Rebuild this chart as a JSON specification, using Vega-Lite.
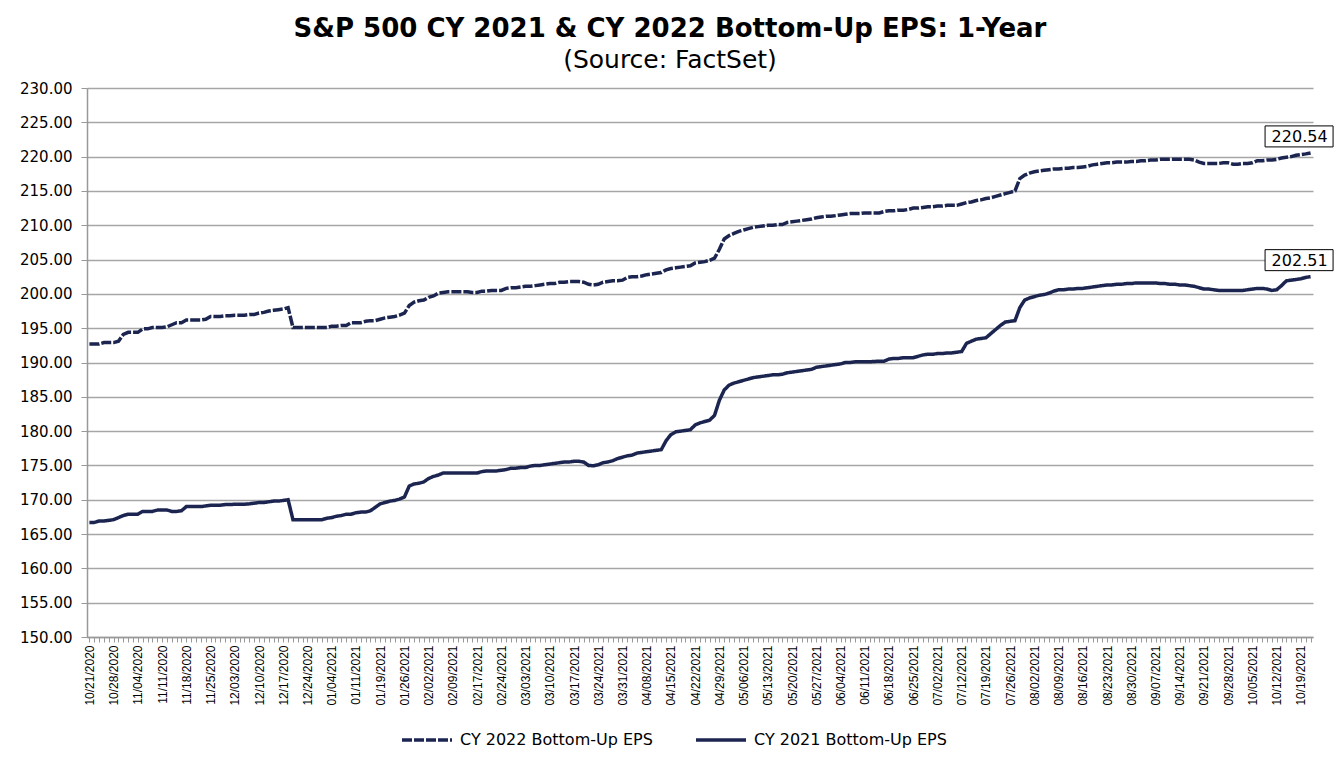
{
  "$schema": "https://vega.github.io/schema/vega-lite/v6.json",
  "width": 1226,
  "height": 549,
  "autosize": {"type": "none"},
  "padding": {"left": 87, "top": 88, "right": 25, "bottom": 122},
  "background": "white",
  "config": {"view": {"stroke": null}},
  "title": {
    "text": "S&P 500 CY 2021 & CY 2022 Bottom-Up  EPS: 1-Year",
    "subtitle": "(Source: FactSet)",
    "anchor": "middle",
    "dx": -30,
    "font": "DejaVu Sans",
    "fontSize": 26,
    "fontWeight": "bold",
    "color": "black",
    "subtitleFont": "DejaVu Sans",
    "subtitleFontSize": 25,
    "subtitleColor": "black",
    "subtitlePadding": 6,
    "offset": 8
  },
  "data": {"values": [
    {"d":"10/21/2020","a":192.7,"b":166.7},
    {"d":"10/22/2020","a":192.7,"b":166.7},
    {"d":"10/23/2020","a":192.7,"b":166.9},
    {"d":"10/26/2020","a":192.9,"b":166.9},
    {"d":"10/27/2020","a":192.9,"b":167.0},
    {"d":"10/28/2020","a":192.9,"b":167.1},
    {"d":"10/29/2020","a":193.1,"b":167.4},
    {"d":"10/30/2020","a":194.1,"b":167.7},
    {"d":"11/02/2020","a":194.4,"b":167.9},
    {"d":"11/03/2020","a":194.4,"b":167.9},
    {"d":"11/04/2020","a":194.4,"b":167.9},
    {"d":"11/05/2020","a":194.9,"b":168.3},
    {"d":"11/06/2020","a":194.9,"b":168.3},
    {"d":"11/09/2020","a":195.1,"b":168.3},
    {"d":"11/10/2020","a":195.1,"b":168.5},
    {"d":"11/11/2020","a":195.1,"b":168.5},
    {"d":"11/12/2020","a":195.2,"b":168.5},
    {"d":"11/13/2020","a":195.5,"b":168.3},
    {"d":"11/16/2020","a":195.8,"b":168.3},
    {"d":"11/17/2020","a":195.8,"b":168.4},
    {"d":"11/18/2020","a":196.2,"b":169.0},
    {"d":"11/19/2020","a":196.2,"b":169.0},
    {"d":"11/20/2020","a":196.2,"b":169.0},
    {"d":"11/23/2020","a":196.2,"b":169.0},
    {"d":"11/24/2020","a":196.3,"b":169.1},
    {"d":"11/25/2020","a":196.7,"b":169.2},
    {"d":"11/27/2020","a":196.7,"b":169.2},
    {"d":"11/30/2020","a":196.7,"b":169.2},
    {"d":"12/01/2020","a":196.8,"b":169.3},
    {"d":"12/02/2020","a":196.8,"b":169.3},
    {"d":"12/03/2020","a":196.9,"b":169.35},
    {"d":"12/04/2020","a":196.9,"b":169.35},
    {"d":"12/07/2020","a":196.9,"b":169.35},
    {"d":"12/08/2020","a":197.0,"b":169.4},
    {"d":"12/09/2020","a":197.0,"b":169.5},
    {"d":"12/10/2020","a":197.2,"b":169.6},
    {"d":"12/11/2020","a":197.3,"b":169.6},
    {"d":"12/14/2020","a":197.5,"b":169.7},
    {"d":"12/15/2020","a":197.6,"b":169.8},
    {"d":"12/16/2020","a":197.7,"b":169.8},
    {"d":"12/17/2020","a":197.8,"b":169.9},
    {"d":"12/18/2020","a":198.0,"b":170.0},
    {"d":"12/21/2020","a":195.1,"b":167.1},
    {"d":"12/22/2020","a":195.1,"b":167.1},
    {"d":"12/23/2020","a":195.1,"b":167.1},
    {"d":"12/24/2020","a":195.1,"b":167.1},
    {"d":"12/28/2020","a":195.1,"b":167.1},
    {"d":"12/29/2020","a":195.1,"b":167.1},
    {"d":"12/30/2020","a":195.1,"b":167.1},
    {"d":"12/31/2020","a":195.1,"b":167.3},
    {"d":"01/04/2021","a":195.3,"b":167.4},
    {"d":"01/05/2021","a":195.3,"b":167.6},
    {"d":"01/06/2021","a":195.4,"b":167.7},
    {"d":"01/07/2021","a":195.4,"b":167.9},
    {"d":"01/08/2021","a":195.8,"b":167.9},
    {"d":"01/11/2021","a":195.8,"b":168.1},
    {"d":"01/12/2021","a":195.8,"b":168.2},
    {"d":"01/13/2021","a":196.0,"b":168.2},
    {"d":"01/14/2021","a":196.1,"b":168.4},
    {"d":"01/15/2021","a":196.1,"b":168.9},
    {"d":"01/19/2021","a":196.3,"b":169.4},
    {"d":"01/20/2021","a":196.5,"b":169.6},
    {"d":"01/21/2021","a":196.6,"b":169.8},
    {"d":"01/22/2021","a":196.7,"b":169.9},
    {"d":"01/25/2021","a":196.9,"b":170.1},
    {"d":"01/26/2021","a":197.2,"b":170.4},
    {"d":"01/27/2021","a":198.3,"b":172.0},
    {"d":"01/28/2021","a":198.8,"b":172.3},
    {"d":"01/29/2021","a":199.0,"b":172.4},
    {"d":"02/01/2021","a":199.1,"b":172.6},
    {"d":"02/02/2021","a":199.5,"b":173.1},
    {"d":"02/03/2021","a":199.7,"b":173.4},
    {"d":"02/04/2021","a":200.1,"b":173.6},
    {"d":"02/05/2021","a":200.2,"b":173.9},
    {"d":"02/08/2021","a":200.3,"b":173.9},
    {"d":"02/09/2021","a":200.3,"b":173.9},
    {"d":"02/10/2021","a":200.3,"b":173.9},
    {"d":"02/11/2021","a":200.3,"b":173.9},
    {"d":"02/12/2021","a":200.3,"b":173.9},
    {"d":"02/16/2021","a":200.2,"b":173.9},
    {"d":"02/17/2021","a":200.2,"b":173.9},
    {"d":"02/18/2021","a":200.4,"b":174.1},
    {"d":"02/19/2021","a":200.4,"b":174.2},
    {"d":"02/22/2021","a":200.5,"b":174.2},
    {"d":"02/23/2021","a":200.5,"b":174.2},
    {"d":"02/24/2021","a":200.5,"b":174.3},
    {"d":"02/25/2021","a":200.8,"b":174.4},
    {"d":"02/26/2021","a":200.9,"b":174.6},
    {"d":"03/01/2021","a":200.9,"b":174.6},
    {"d":"03/02/2021","a":201.0,"b":174.7},
    {"d":"03/03/2021","a":201.1,"b":174.7},
    {"d":"03/04/2021","a":201.1,"b":174.9},
    {"d":"03/05/2021","a":201.2,"b":175.0},
    {"d":"03/08/2021","a":201.3,"b":175.0},
    {"d":"03/09/2021","a":201.4,"b":175.1},
    {"d":"03/10/2021","a":201.5,"b":175.2},
    {"d":"03/11/2021","a":201.5,"b":175.3},
    {"d":"03/12/2021","a":201.7,"b":175.4},
    {"d":"03/15/2021","a":201.7,"b":175.5},
    {"d":"03/16/2021","a":201.8,"b":175.5},
    {"d":"03/17/2021","a":201.8,"b":175.6},
    {"d":"03/18/2021","a":201.8,"b":175.6},
    {"d":"03/19/2021","a":201.7,"b":175.5},
    {"d":"03/22/2021","a":201.4,"b":175.0},
    {"d":"03/23/2021","a":201.3,"b":174.95},
    {"d":"03/24/2021","a":201.4,"b":175.1},
    {"d":"03/25/2021","a":201.7,"b":175.4},
    {"d":"03/26/2021","a":201.8,"b":175.5},
    {"d":"03/29/2021","a":201.9,"b":175.7},
    {"d":"03/30/2021","a":201.9,"b":176.0},
    {"d":"03/31/2021","a":202.0,"b":176.2},
    {"d":"04/01/2021","a":202.4,"b":176.4},
    {"d":"04/05/2021","a":202.5,"b":176.5},
    {"d":"04/06/2021","a":202.5,"b":176.8},
    {"d":"04/07/2021","a":202.6,"b":176.9},
    {"d":"04/08/2021","a":202.8,"b":177.0},
    {"d":"04/09/2021","a":202.9,"b":177.1},
    {"d":"04/12/2021","a":203.0,"b":177.2},
    {"d":"04/13/2021","a":203.1,"b":177.3},
    {"d":"04/14/2021","a":203.5,"b":178.6},
    {"d":"04/15/2021","a":203.7,"b":179.5},
    {"d":"04/16/2021","a":203.8,"b":179.9},
    {"d":"04/19/2021","a":203.9,"b":180.0},
    {"d":"04/20/2021","a":204.0,"b":180.1},
    {"d":"04/21/2021","a":204.1,"b":180.2},
    {"d":"04/22/2021","a":204.5,"b":180.9},
    {"d":"04/23/2021","a":204.6,"b":181.2},
    {"d":"04/26/2021","a":204.7,"b":181.4},
    {"d":"04/27/2021","a":204.9,"b":181.6},
    {"d":"04/28/2021","a":205.2,"b":182.3},
    {"d":"04/29/2021","a":206.5,"b":184.5},
    {"d":"04/30/2021","a":208.0,"b":186.0},
    {"d":"05/03/2021","a":208.5,"b":186.7},
    {"d":"05/04/2021","a":208.8,"b":187.0},
    {"d":"05/05/2021","a":209.1,"b":187.2},
    {"d":"05/06/2021","a":209.3,"b":187.4},
    {"d":"05/07/2021","a":209.5,"b":187.6},
    {"d":"05/10/2021","a":209.7,"b":187.8},
    {"d":"05/11/2021","a":209.8,"b":187.9},
    {"d":"05/12/2021","a":209.9,"b":188.0},
    {"d":"05/13/2021","a":210.0,"b":188.1},
    {"d":"05/14/2021","a":210.0,"b":188.2},
    {"d":"05/17/2021","a":210.1,"b":188.2},
    {"d":"05/18/2021","a":210.1,"b":188.3},
    {"d":"05/19/2021","a":210.4,"b":188.5},
    {"d":"05/20/2021","a":210.5,"b":188.6},
    {"d":"05/21/2021","a":210.6,"b":188.7},
    {"d":"05/24/2021","a":210.7,"b":188.8},
    {"d":"05/25/2021","a":210.8,"b":188.9},
    {"d":"05/26/2021","a":210.9,"b":189.0},
    {"d":"05/27/2021","a":211.1,"b":189.3},
    {"d":"05/28/2021","a":211.2,"b":189.4},
    {"d":"06/01/2021","a":211.3,"b":189.5},
    {"d":"06/02/2021","a":211.3,"b":189.6},
    {"d":"06/03/2021","a":211.4,"b":189.7},
    {"d":"06/04/2021","a":211.5,"b":189.8},
    {"d":"06/07/2021","a":211.6,"b":190.0},
    {"d":"06/08/2021","a":211.7,"b":190.0},
    {"d":"06/09/2021","a":211.7,"b":190.1},
    {"d":"06/10/2021","a":211.7,"b":190.1},
    {"d":"06/11/2021","a":211.8,"b":190.1},
    {"d":"06/14/2021","a":211.8,"b":190.1},
    {"d":"06/15/2021","a":211.8,"b":190.15},
    {"d":"06/16/2021","a":211.8,"b":190.2},
    {"d":"06/17/2021","a":212.0,"b":190.2},
    {"d":"06/18/2021","a":212.1,"b":190.5},
    {"d":"06/21/2021","a":212.1,"b":190.6},
    {"d":"06/22/2021","a":212.2,"b":190.6},
    {"d":"06/23/2021","a":212.2,"b":190.7},
    {"d":"06/24/2021","a":212.3,"b":190.7},
    {"d":"06/25/2021","a":212.5,"b":190.7},
    {"d":"06/28/2021","a":212.5,"b":190.9},
    {"d":"06/29/2021","a":212.6,"b":191.1},
    {"d":"06/30/2021","a":212.7,"b":191.2},
    {"d":"07/01/2021","a":212.7,"b":191.2},
    {"d":"07/02/2021","a":212.8,"b":191.3},
    {"d":"07/06/2021","a":212.8,"b":191.3},
    {"d":"07/07/2021","a":212.9,"b":191.4},
    {"d":"07/08/2021","a":212.9,"b":191.4},
    {"d":"07/09/2021","a":212.9,"b":191.5},
    {"d":"07/12/2021","a":213.1,"b":191.6},
    {"d":"07/13/2021","a":213.3,"b":192.8},
    {"d":"07/14/2021","a":213.4,"b":193.1},
    {"d":"07/15/2021","a":213.6,"b":193.4},
    {"d":"07/16/2021","a":213.7,"b":193.5},
    {"d":"07/19/2021","a":213.9,"b":193.6},
    {"d":"07/20/2021","a":214.0,"b":194.2},
    {"d":"07/21/2021","a":214.2,"b":194.8},
    {"d":"07/22/2021","a":214.4,"b":195.4},
    {"d":"07/23/2021","a":214.6,"b":195.9},
    {"d":"07/26/2021","a":214.8,"b":196.0},
    {"d":"07/27/2021","a":215.0,"b":196.1},
    {"d":"07/28/2021","a":216.8,"b":198.0},
    {"d":"07/29/2021","a":217.3,"b":199.1},
    {"d":"07/30/2021","a":217.6,"b":199.4},
    {"d":"08/02/2021","a":217.8,"b":199.6},
    {"d":"08/03/2021","a":217.9,"b":199.8},
    {"d":"08/04/2021","a":218.0,"b":199.9},
    {"d":"08/05/2021","a":218.1,"b":200.1},
    {"d":"08/06/2021","a":218.2,"b":200.4},
    {"d":"08/09/2021","a":218.2,"b":200.6},
    {"d":"08/10/2021","a":218.3,"b":200.6},
    {"d":"08/11/2021","a":218.3,"b":200.7},
    {"d":"08/12/2021","a":218.4,"b":200.7},
    {"d":"08/13/2021","a":218.4,"b":200.8},
    {"d":"08/16/2021","a":218.5,"b":200.8},
    {"d":"08/17/2021","a":218.6,"b":200.9},
    {"d":"08/18/2021","a":218.8,"b":201.0},
    {"d":"08/19/2021","a":218.9,"b":201.1},
    {"d":"08/20/2021","a":219.0,"b":201.2},
    {"d":"08/23/2021","a":219.1,"b":201.3},
    {"d":"08/24/2021","a":219.1,"b":201.3},
    {"d":"08/25/2021","a":219.2,"b":201.4},
    {"d":"08/26/2021","a":219.2,"b":201.4},
    {"d":"08/27/2021","a":219.2,"b":201.5},
    {"d":"08/30/2021","a":219.3,"b":201.5},
    {"d":"08/31/2021","a":219.3,"b":201.6},
    {"d":"09/01/2021","a":219.4,"b":201.6},
    {"d":"09/02/2021","a":219.4,"b":201.6},
    {"d":"09/03/2021","a":219.5,"b":201.6},
    {"d":"09/07/2021","a":219.5,"b":201.6},
    {"d":"09/08/2021","a":219.6,"b":201.5},
    {"d":"09/09/2021","a":219.6,"b":201.5},
    {"d":"09/10/2021","a":219.6,"b":201.4},
    {"d":"09/13/2021","a":219.6,"b":201.4},
    {"d":"09/14/2021","a":219.6,"b":201.3},
    {"d":"09/15/2021","a":219.6,"b":201.3},
    {"d":"09/16/2021","a":219.6,"b":201.2},
    {"d":"09/17/2021","a":219.5,"b":201.1},
    {"d":"09/20/2021","a":219.2,"b":200.9},
    {"d":"09/21/2021","a":219.0,"b":200.7},
    {"d":"09/22/2021","a":219.0,"b":200.7},
    {"d":"09/23/2021","a":219.0,"b":200.6},
    {"d":"09/24/2021","a":219.0,"b":200.5},
    {"d":"09/27/2021","a":219.1,"b":200.5},
    {"d":"09/28/2021","a":219.1,"b":200.5},
    {"d":"09/29/2021","a":218.9,"b":200.5},
    {"d":"09/30/2021","a":218.9,"b":200.5},
    {"d":"10/01/2021","a":219.0,"b":200.5},
    {"d":"10/04/2021","a":219.0,"b":200.6},
    {"d":"10/05/2021","a":219.1,"b":200.7},
    {"d":"10/06/2021","a":219.4,"b":200.8},
    {"d":"10/07/2021","a":219.4,"b":200.8},
    {"d":"10/08/2021","a":219.5,"b":200.7},
    {"d":"10/11/2021","a":219.5,"b":200.5},
    {"d":"10/12/2021","a":219.6,"b":200.6},
    {"d":"10/13/2021","a":219.8,"b":201.2},
    {"d":"10/14/2021","a":219.9,"b":201.9},
    {"d":"10/15/2021","a":220.0,"b":202.0},
    {"d":"10/18/2021","a":220.2,"b":202.1},
    {"d":"10/19/2021","a":220.3,"b":202.2},
    {"d":"10/20/2021","a":220.4,"b":202.4},
    {"d":"10/21/2021","a":220.54,"b":202.51}
  ]},
  "transform": [{"fold": ["a", "b"], "as": ["s", "v"]}],
  "encoding": {
    "x": {
      "field": "d",
      "type": "ordinal",
      "sort": null,
      "scale": {"type": "point", "padding": 0.5},
      "axis": {
        "title": null,
        "labelAngle": 270,
        "labelFont": "Liberation Sans",
        "labelFontSize": 12,
        "labelColor": "black",
        "labelOverlap": false,
        "labelPadding": 3,
        "labelExpr": "indexof(['10/21/2020','10/28/2020','11/04/2020','11/11/2020','11/18/2020','11/25/2020','12/03/2020','12/10/2020','12/17/2020','12/24/2020','01/04/2021','01/11/2021','01/19/2021','01/26/2021','02/02/2021','02/09/2021','02/17/2021','02/24/2021','03/03/2021','03/10/2021','03/17/2021','03/24/2021','03/31/2021','04/08/2021','04/15/2021','04/22/2021','04/29/2021','05/06/2021','05/13/2021','05/20/2021','05/27/2021','06/04/2021','06/11/2021','06/18/2021','06/25/2021','07/02/2021','07/12/2021','07/19/2021','07/26/2021','08/02/2021','08/09/2021','08/16/2021','08/23/2021','08/30/2021','09/07/2021','09/14/2021','09/21/2021','09/28/2021','10/05/2021','10/12/2021','10/19/2021'], datum.value) >= 0 ? datum.value : ''",
        "tickSize": 5,
        "tickColor": "#999999",
        "domainColor": "#999999",
        "domainWidth": 1.5,
        "grid": false
      }
    },
    "y": {
      "field": "v",
      "type": "quantitative",
      "scale": {"domain": [150, 230], "nice": false, "zero": false},
      "axis": {
        "title": null,
        "values": [150,155,160,165,170,175,180,185,190,195,200,205,210,215,220,225,230],
        "format": ".2f",
        "labelOverlap": false,
        "labelFont": "DejaVu Sans",
        "labelFontSize": 15,
        "labelColor": "black",
        "labelPadding": 9,
        "tickSize": 6,
        "tickColor": "#999999",
        "domainColor": "#999999",
        "domainWidth": 1.5,
        "gridColor": "#a6a6a6",
        "gridWidth": 1.5
      }
    }
  },
  "layer": [
    {
      "mark": {"type": "line", "strokeWidth": 3.5, "color": "#1b2550", "strokeCap": "butt"},
      "encoding": {
        "strokeDash": {
          "field": "s",
          "type": "nominal",
          "scale": {"domain": ["a", "b"], "range": [[10, 2], [1, 0]]},
          "legend": {
            "title": null,
            "orient": "none",
            "legendX": 313,
            "legendY": 625,
            "direction": "horizontal",
            "symbolType": "stroke",
            "symbolSize": 2500,
            "symbolStrokeWidth": 3.5,
            "symbolStrokeColor": "#1b2550",
            "labelFont": "DejaVu Sans",
            "labelFontSize": 16,
            "labelColor": "black",
            "labelLimit": 400,
            "labelOffset": 6,
            "columnPadding": 36,
            "labelExpr": "datum.value == 'a' ? 'CY 2022 Bottom-Up EPS' : 'CY 2021 Bottom-Up EPS'"
          }
        }
      }
    },
    {
      "transform": [{"filter": "datum.d == '10/21/2021'"}],
      "mark": {"type": "point", "shape": "M-0.91,-0.54H0.45V-0.12H-0.91Z", "size": 10000, "filled": true, "fill": "white", "stroke": "black", "strokeWidth": 1, "opacity": 1},
      "encoding": {}
    },
    {
      "transform": [{"filter": "datum.d == '10/21/2021'"}],
      "mark": {"type": "text", "dx": -11, "dy": -16, "font": "DejaVu Sans", "fontSize": 16, "color": "black"},
      "encoding": {
        "text": {"field": "v", "type": "quantitative", "format": ".2f"}
      }
    }
  ]
}
